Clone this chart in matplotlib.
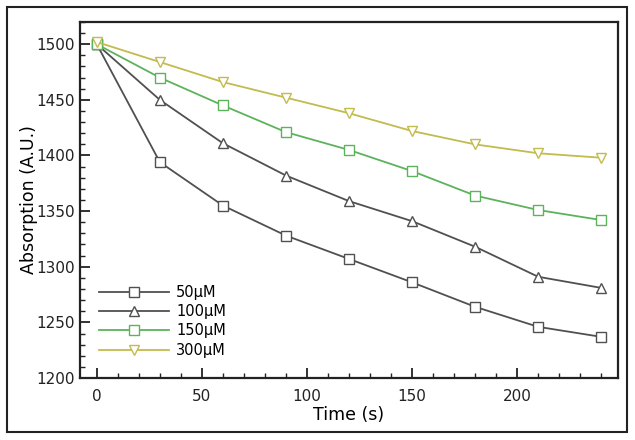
import matplotlib.pyplot as plt
from matplotlib.patches import Rectangle
from matplotlib.ticker import MultipleLocator

plt.rcParams['font.family'] = ['DejaVu Sans']

# data
time_s = [0, 30, 60, 90, 120, 150, 180, 210, 240]
labels = ['50μM', '100μM', '150μM', '300μM']
abs_50 = [1500, 1394, 1355, 1328, 1307, 1286, 1264, 1246, 1237]
abs_100 = [1500, 1450, 1411, 1382, 1359, 1341, 1318, 1291, 1281]
abs_150 = [1500, 1470, 1445, 1421, 1405, 1386, 1364, 1351, 1342]
abs_300 = [1502, 1484, 1466, 1452, 1438, 1422, 1410, 1402, 1398]

colors = ['#505050', '#505050', '#5cb35c', '#c2bb4e']
markers = ['s', '^', 's', 'v']

fig = plt.figure(figsize=(6.35, 4.4), dpi=100)
ax = fig.add_axes([80/635, 1 - 378/440, 538/635, 356/440])

# outer frame around the whole figure
fig.patches.append(Rectangle((7/635, 8/440), 620/635, 425/440, transform=fig.transFigure,
                             fill=False, edgecolor='#222222', linewidth=1.5))

series = [abs_50, abs_100, abs_150, abs_300]
for vals, lab, c, m in zip(series, labels, colors, markers):
    ax.plot(time_s, vals, color=c, marker=m, markersize=7.5, markerfacecolor='white',
            markeredgecolor=c, markeredgewidth=1.0, linewidth=1.3, label=lab)

ax.set_xlim(-8, 248)
ax.set_ylim(1200, 1520)
ax.xaxis.set_major_locator(MultipleLocator(50))
ax.xaxis.set_minor_locator(MultipleLocator(10))
ax.yaxis.set_major_locator(MultipleLocator(50))
ax.yaxis.set_minor_locator(MultipleLocator(10))
ax.tick_params(which='both', direction='in', labelsize=11, colors='#222222')
ax.tick_params(which='major', length=7, width=1.3)
ax.tick_params(which='minor', length=3.5, width=1)
ax.tick_params(axis='x', pad=8)
for s in ax.spines.values():
    s.set_linewidth(1.6)
    s.set_color('#222222')

ax.set_xlabel('Time (s)', fontsize=12.5, labelpad=1)
ax.set_ylabel('Absorption (A.U.)', fontsize=12.5, labelpad=-1)

ax.legend(loc='upper left', bbox_to_anchor=(0.035, 0.262), frameon=False, fontsize=10.5,
          handlelength=4.8, handletextpad=0.5, labelspacing=0.3, borderpad=0,
          borderaxespad=0)

fig.savefig('out.png', dpi=100, facecolor='white')
